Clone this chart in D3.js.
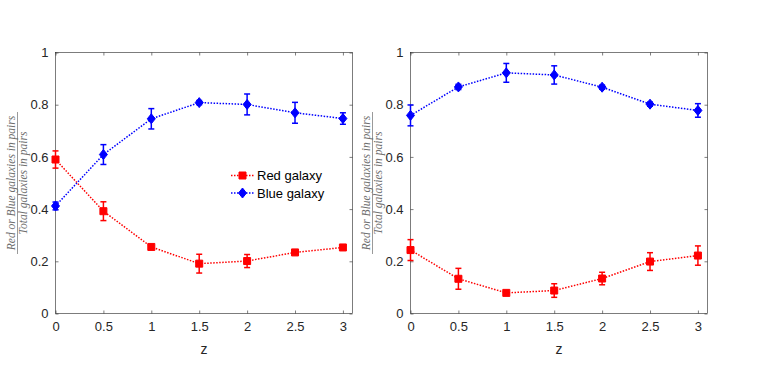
<!DOCTYPE html>
<html>
<head>
<meta charset="utf-8">
<script src="https://cdn.jsdelivr.net/npm/d3@7"></script>
<style>
  body { margin: 0; background: #fff; }
  svg { display: block; font-family: "Liberation Sans", Arial, sans-serif; }
</style>
</head>
<body>
<div id="chart"></div>
<script>
const WIDTH = 763;
const HEIGHT = 366;

const z = [0, 0.5, 1, 1.5, 2, 2.5, 3];
const xTicks = [0, 0.5, 1, 1.5, 2, 2.5, 3];
const yTicks = [0, 0.2, 0.4, 0.6, 0.8, 1];

// left panel
const redLeft = [0.590, 0.392, 0.255, 0.191, 0.201, 0.234, 0.253];
const redLeftErr = [0.033, 0.036, 0.005, 0.036, 0.025, 0.006, 0.005];
const blueLeft = [0.412, 0.609, 0.746, 0.808, 0.801, 0.769, 0.747];
const blueLeftErr = [0.015, 0.038, 0.039, 0.008, 0.040, 0.040, 0.022];

// right panel
const redRight = [0.243, 0.133, 0.079, 0.088, 0.134, 0.199, 0.222];
const redRightErr = [0.040, 0.040, 0.005, 0.026, 0.024, 0.034, 0.037];
const blueRight = [0.759, 0.868, 0.922, 0.914, 0.867, 0.802, 0.778];
const blueRightErr = [0.040, 0.010, 0.036, 0.035, 0.008, 0.008, 0.026];

const RED = "#ff0000";
const BLUE = "#0000ff";
const AXIS_COLOR = "#262626";

const svg = d3.select("#chart").append("svg")
  .attr("width", WIDTH)
  .attr("height", HEIGHT);

const panels = [
  { left: 55.5, right: 352.5, red: redLeft, redErr: redLeftErr, blue: blueLeft, blueErr: blueLeftErr, legend: true },
  { left: 410.5, right: 707.5, red: redRight, redErr: redRightErr, blue: blueRight, blueErr: blueRightErr, legend: false }
];
const TOP = 52.5;
const BOTTOM = 313.5;

function drawSeries(g, x, y, vals, errs, color, shape) {
  const pts = z.map((d, i) => ({ z: d, v: vals[i], e: errs[i] }));

  g.append("path")
    .datum(pts)
    .attr("fill", "none")
    .attr("stroke", color)
    .attr("stroke-width", 1.5)
    .attr("stroke-dasharray", "1.5,1.5")
    .attr("d", d3.line().x(d => x(d.z)).y(d => y(d.v)));

  // error bars
  const eb = g.append("g").attr("stroke", color).attr("stroke-width", 1.5);
  pts.forEach(d => {
    const cx = x(d.z);
    eb.append("line").attr("x1", cx).attr("x2", cx).attr("y1", y(d.v - d.e)).attr("y2", y(d.v + d.e));
    eb.append("line").attr("x1", cx - 3).attr("x2", cx + 3).attr("y1", y(d.v - d.e)).attr("y2", y(d.v - d.e));
    eb.append("line").attr("x1", cx - 3).attr("x2", cx + 3).attr("y1", y(d.v + d.e)).attr("y2", y(d.v + d.e));
  });

  g.selectAll(null)
    .data(pts)
    .enter()
    .append("path")
    .attr("fill", color)
    .attr("stroke", color)
    .attr("transform", d => "translate(" + x(d.z) + "," + y(d.v) + ")")
    .attr("d", shape);
}

const square = "M-3.5,-3.5H3.5V3.5H-3.5Z";
const diamond = "M0,-5L4,0L0,5L-4,0Z";

panels.forEach(p => {
  const x = d3.scaleLinear().domain([0, 3.1]).range([p.left, p.right]);
  const y = d3.scaleLinear().domain([0, 1]).range([BOTTOM, TOP]);
  const g = svg.append("g");

  // box
  g.append("rect")
    .attr("x", p.left).attr("y", TOP)
    .attr("width", p.right - p.left).attr("height", BOTTOM - TOP)
    .attr("fill", "none").attr("stroke", AXIS_COLOR).attr("stroke-width", 0.6);

  // axes with inward ticks
  const xAxis = d3.axisBottom(x).tickValues(xTicks).tickSize(-3).tickPadding(8).tickFormat(d3.format("~g"));
  const yAxis = d3.axisLeft(y).tickValues(yTicks).tickSize(-3).tickPadding(7).tickFormat(d3.format("~g"));

  g.append("g").attr("transform", "translate(0," + BOTTOM + ")").call(xAxis)
    .call(a => a.select(".domain").remove());
  g.append("g").attr("transform", "translate(" + p.left + ",0)").call(yAxis)
    .call(a => a.select(".domain").remove());
  // mirrored ticks on top and right
  g.append("g").attr("transform", "translate(0," + TOP + ")")
    .call(d3.axisTop(x).tickValues(xTicks).tickSize(-3).tickFormat(""))
    .call(a => a.select(".domain").remove());
  g.append("g").attr("transform", "translate(" + p.right + ",0)")
    .call(d3.axisRight(y).tickValues(yTicks).tickSize(-3).tickFormat(""))
    .call(a => a.select(".domain").remove());

  g.selectAll(".tick line").attr("stroke", AXIS_COLOR).attr("stroke-width", 0.6);
  g.selectAll(".tick text")
    .attr("fill", AXIS_COLOR)
    .style("font-size", "13px")
    .style("font-family", "'Liberation Sans', Arial, sans-serif");

  // x label
  g.append("text")
    .attr("x", (p.left + p.right) / 2)
    .attr("y", 354)
    .attr("text-anchor", "middle")
    .attr("fill", AXIS_COLOR)
    .style("font-size", "14px")
    .text("z");

  // y label as fraction
  const lx = p.left - 38;
  const cy = (TOP + BOTTOM) / 2;
  const lab = g.append("g")
    .attr("transform", "translate(" + lx + "," + cy + ") rotate(-90)")
    .attr("fill", "#6e6e6e")
    .style("font-family", "'Liberation Serif', 'Times New Roman', serif")
    .style("font-style", "italic")
    .style("font-size", "11.5px");
  lab.append("text").attr("x", 0).attr("y", -3).attr("text-anchor", "middle")
    .text("Red or Blue galaxies in pairs");
  lab.append("line").attr("x1", -71).attr("x2", 71).attr("y1", 0).attr("y2", 0)
    .attr("stroke", "#6e6e6e").attr("stroke-width", 0.7);
  lab.append("text").attr("x", 0).attr("y", 9.5).attr("text-anchor", "middle")
    .text("Total galaxies in pairs");

  drawSeries(g, x, y, p.red, p.redErr, RED, square);
  drawSeries(g, x, y, p.blue, p.blueErr, BLUE, diamond);

  if (p.legend) {
    const items = [
      { label: "Red galaxy", color: RED, shape: square, y: 175.5 },
      { label: "Blue galaxy", color: BLUE, shape: diamond, y: 193 }
    ];
    items.forEach(it => {
      g.append("line")
        .attr("x1", 231).attr("x2", 254).attr("y1", it.y).attr("y2", it.y)
        .attr("stroke", it.color).attr("stroke-width", 1.5).attr("stroke-dasharray", "1.5,1.5");
      g.append("path")
        .attr("transform", "translate(242.5," + it.y + ")")
        .attr("d", it.shape).attr("fill", it.color).attr("stroke", it.color);
      g.append("text")
        .attr("x", 257).attr("y", it.y + 4.5)
        .attr("fill", "#000")
        .style("font-size", "13px")
        .text(it.label);
    });
  }
});
</script>
</body>
</html>
